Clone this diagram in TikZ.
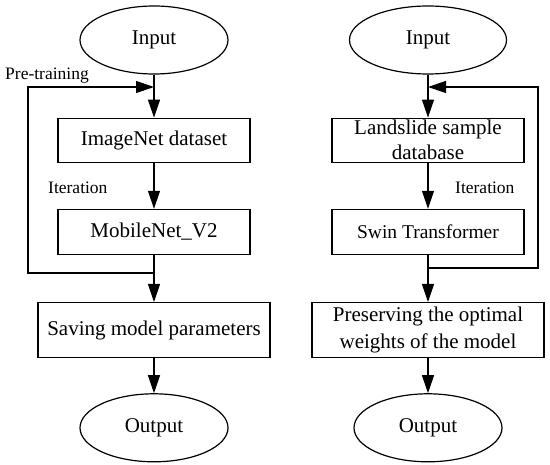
\documentclass[tikz,border=0pt]{standalone}
\usepackage{fontspec}
\setmainfont{Liberation Serif}
\usetikzlibrary{shapes.geometric, arrows.meta, positioning}
\tikzset{
  io node/.style={
    ellipse, draw, line width=1.2pt, minimum width=#1, minimum height=68pt,
    inner sep=0pt, font=\fontsize{21}{25}\selectfont
  },
  stage node/.style={
    rectangle, draw, line width=1.2pt, minimum width=#1, minimum height=44pt,
    inner sep=0pt, align=center, font=\fontsize{21}{24}\selectfont
  },
  note/.style={anchor=west, inner sep=0pt, font=\fontsize{17.5}{20}\selectfont},
  arrow/.style={-{Triangle[length=18pt, width=12pt]}, line width=1.2pt},
  plain/.style={line width=1.2pt},
}
\begin{document}
\begin{tikzpicture}[x=1pt, y=-1pt]
  \useasboundingbox (0,0) rectangle (550,465);

  % pre-training branch
  \node[io node=148pt] (in1) at (154,40) {Input};
  \node[stage node=192pt, below=43pt of in1] (img) {ImageNet dataset};
  \node[stage node=192pt, minimum height=45pt, below=46pt of img] (mob) {MobileNet\_V2};
  \node[stage node=232pt, minimum height=55pt, below=47pt of mob] (save)
    {Saving model parameters};
  \node[io node=148pt, below=35pt of save] (out1) {Output};

  \node[note] (pre) at (5,76) {Pre-training};
  \node[note] (it1) at (48,188) {Iteration};

  \coordinate (ltop) at (154,87);
  \coordinate (lturn) at (154,273);
  \coordinate (lcorner) at (28,273);

  \draw[arrow] (in1) -- (img);
  \draw[arrow] (img) -- (mob);
  \draw[arrow] (mob) -- (save);
  \draw[arrow] (save) -- (out1);
  \draw[arrow] (lturn) -- (lcorner) |- (ltop);

  % fine-tuning branch
  \node[io node=157pt] (in2) at (428,40) {Input};
  \node[stage node=192pt, below=43pt of in2, font=\fontsize{21}{25}\selectfont] (db)
    {Landslide sample\\database};
  \node[stage node=192pt, minimum height=45pt, below=46pt of db,
    font=\fontsize{19.5}{22}\selectfont] (swin) {Swin Transformer};
  \node[stage node=232pt, minimum height=55pt, below=47pt of swin,
    font=\fontsize{21}{27}\selectfont] (keep)
    {Preserving the optimal\\weights of the model};
  \node[io node=148pt, below=35pt of keep] (out2) {Output};

  \node[note] (it2) at (455,188) {Iteration};

  \coordinate (rtop) at (428,87);
  \coordinate (rturn) at (428,268);
  \coordinate (rcorner) at (538,268);

  \draw[arrow] (in2) -- (db);
  \draw[arrow] (db) -- (swin);
  \draw[arrow] (swin) -- (keep);
  \draw[arrow] (keep) -- (out2);
  \draw[arrow] (rturn) -- (rcorner) |- (rtop);
\end{tikzpicture}
\end{document}
